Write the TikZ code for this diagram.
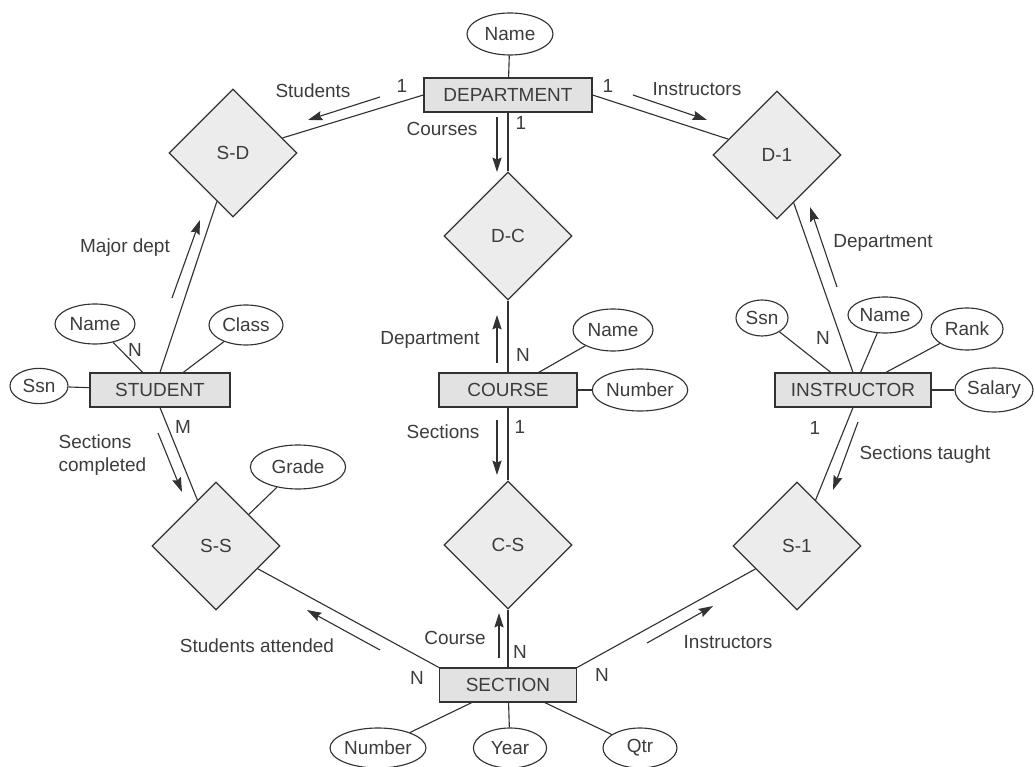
\documentclass[tikz,border=0pt]{standalone}
\usepackage{fontspec}
\setmainfont{Liberation Sans}
\usetikzlibrary{shapes.geometric, arrows.meta, calc}
\definecolor{linec}{RGB}{50,50,50}
\definecolor{textc}{RGB}{60,60,60}
\definecolor{boxfill}{RGB}{226,226,226}
\definecolor{relfill}{RGB}{236,236,236}

\begin{document}
\begin{tikzpicture}[
    x=0.025cm, y=-0.025cm,
    font=\fontsize{13.5}{16}\selectfont,
    entity/.style={draw=linec, rectangle, fill=boxfill, minimum height=0.85cm, inner sep=2pt, line width=0.8pt, text=textc},
    relation/.style={draw=linec, diamond, aspect=1, fill=relfill, minimum width=3.2cm, minimum height=3.2cm, inner sep=0pt, line width=0.8pt, text=textc},
    attr/.style={draw=linec, ellipse, fill=white, inner sep=0pt, line width=0.8pt, text=textc},
    lbl/.style={text=textc, inner sep=1pt},
    link/.style={draw=linec, line width=0.8pt},
    arrow/.style={->, >={Stealth[length=3.6mm, width=2.3mm, inset=0.5mm]}, draw=linec, line width=0.8pt}
]
\useasboundingbox (0,0) rectangle (1035,767);

% Entities
\node[entity, minimum width=4.2cm] (dept) at (508,95) {DEPARTMENT};
\node[entity, minimum width=3.5cm] (stud) at (160,390) {STUDENT};
\node[entity, minimum width=3.45cm] (course) at (508,390) {COURSE};
\node[entity, minimum width=3.9cm] (instr) at (853,390) {INSTRUCTOR};
\node[entity, minimum width=3.43cm] (sect) at (508,685) {SECTION};

% Relationships
\node[relation] (sd) at (233,153) {S-D};
\node[relation] (dc) at (508,236) {D-C};
\node[relation] (di) at (777,155) {D-1};
\node[relation] (ss) at (216,546) {S-S};
\node[relation] (cs) at (508,545) {C-S};
\node[relation] (si) at (797,546) {S-1};

% Attributes
\node[attr, minimum width=2.15cm, minimum height=1.05cm] (dname) at (510,34) {Name};
\node[attr, minimum width=2cm, minimum height=1cm] (sname) at (95,324) {Name};
\node[attr, minimum width=1.85cm, minimum height=1cm] (sclass) at (246,325) {Class};
\node[attr, minimum width=1.45cm, minimum height=0.88cm] (sssn) at (39,386) {Ssn};
\node[attr, minimum width=2.38cm, minimum height=1.1cm] (grade) at (298,467) {Grade};
\node[attr, minimum width=2cm, minimum height=1.05cm] (cname) at (613,330) {Name};
\node[attr, minimum width=2.12cm, minimum height=1.05cm] (cnum) at (640,390) {Number};
\node[attr, minimum width=1.3cm, minimum height=0.9cm] (issn) at (762,318) {Ssn};
\node[attr, minimum width=1.85cm, minimum height=0.9cm] (iname) at (885,315) {Name};
\node[attr, minimum width=1.8cm, minimum height=1.05cm] (irank) at (967,329) {Rank};
\node[attr, minimum width=1.95cm, minimum height=1.1cm] (isal) at (994,390) {Salary};
\node[attr, minimum width=2.4cm, minimum height=1cm] (secnum) at (378,748) {Number};
\node[attr, minimum width=1.83cm, minimum height=1cm] (secyear) at (510,748) {Year};
\node[attr, minimum width=1.85cm, minimum height=1cm] (secqtr) at (640,748) {Qtr};

% Relationship lines
\draw[link] (dept.west) -- (sd);
\draw[link] (dept.east) -- (di);
\draw[link] (dept) -- (dc);
\draw[link] (stud.north) -- (sd);
\draw[link] (course) -- (dc);
\draw[link] (instr.north) -- (di);
\draw[link] (stud.south) -- (ss);
\draw[link] (course) -- (cs);
\draw[link] (instr.south) -- (si);
\draw[link] (sect.north west) -- (ss);
\draw[link] (sect) -- (cs);
\draw[link] (sect.north east) -- (si);

% Attribute lines
\draw[link] (dname) -- (dept);
\draw[link] (sname) -- (stud);
\draw[link] (sclass) -- (stud);
\draw[link] (sssn) -- (stud);
\draw[link] (grade) -- (ss);
\draw[link] (cname) -- (course);
\draw[link] (cnum) -- (course);
\draw[link] (issn) -- (instr);
\draw[link] (iname) -- (instr);
\draw[link] (irank) -- (instr);
\draw[link] (isal) -- (instr);
\draw[link] (secnum) -- (sect);
\draw[link] (secyear) -- (sect);
\draw[link] (secqtr) -- (sect);

% Cardinalities
\node[lbl] (c1) at (402,86) {1};
\node[lbl] (c2) at (608,86) {1};
\node[lbl] (c3) at (521,123) {1};
\node[lbl] (c4) at (135,350) {N};
\node[lbl] (c5) at (523,355) {N};
\node[lbl] (c6) at (823,338) {N};
\node[lbl] (c7) at (183,427) {M};
\node[lbl] (c8) at (520,427) {1};
\node[lbl] (c9) at (815,428) {1};
\node[lbl] (c10) at (520,652) {N};
\node[lbl] (c11) at (417,678) {N};
\node[lbl] (c12) at (602,675) {N};

% Role labels
\node[lbl] (lstud) at (313,91) {Students};
\node[lbl] (linst) at (697,89) {Instructors};
\node[lbl] (lcourses) at (442,129) {Courses};
\node[lbl] (lmajor) at (125,248) {Major dept};
\node[lbl] (ldept) at (883,243) {Department};
\node[lbl] (lcdept) at (430,340) {Department};
\node[lbl, align=left, anchor=west] (lsc) at (57,455) {Sections\\completed};
\node[lbl] (lsect) at (443,432) {Sections};
\node[lbl] (ltaught) at (925,455) {Sections taught};
\node[lbl] (lcourse) at (455,638) {Course};
\node[lbl] (lattend) at (257,646) {Students attended};
\node[lbl] (linst2) at (728,642) {Instructors};

% Direction arrows
\coordinate (a1s) at (380,97);  \coordinate (a1e) at (308,120);
\coordinate (a2s) at (633,95);  \coordinate (a2e) at (707,120);
\coordinate (a3s) at (497,117); \coordinate (a3e) at (497,172);
\coordinate (a4s) at (172,298); \coordinate (a4e) at (200,220);
\coordinate (a5s) at (837,287); \coordinate (a5e) at (810,207);
\coordinate (a6s) at (497,363); \coordinate (a6e) at (497,315);
\coordinate (a7s) at (497,420); \coordinate (a7e) at (497,475);
\coordinate (a8s) at (158,433); \coordinate (a8e) at (182,492);
\coordinate (a9s) at (858,422); \coordinate (a9e) at (833,490);
\coordinate (a10s) at (380,650); \coordinate (a10e) at (307,610);
\coordinate (a11s) at (499,658); \coordinate (a11e) at (499,613);
\coordinate (a12s) at (647,643); \coordinate (a12e) at (713,606);

\draw[arrow] (a1s) -- (a1e);
\draw[arrow] (a2s) -- (a2e);
\draw[arrow] (a3s) -- (a3e);
\draw[arrow] (a4s) -- (a4e);
\draw[arrow] (a5s) -- (a5e);
\draw[arrow] (a6s) -- (a6e);
\draw[arrow] (a7s) -- (a7e);
\draw[arrow] (a8s) -- (a8e);
\draw[arrow] (a9s) -- (a9e);
\draw[arrow] (a10s) -- (a10e);
\draw[arrow] (a11s) -- (a11e);
\draw[arrow] (a12s) -- (a12e);

\end{tikzpicture}
\end{document}
